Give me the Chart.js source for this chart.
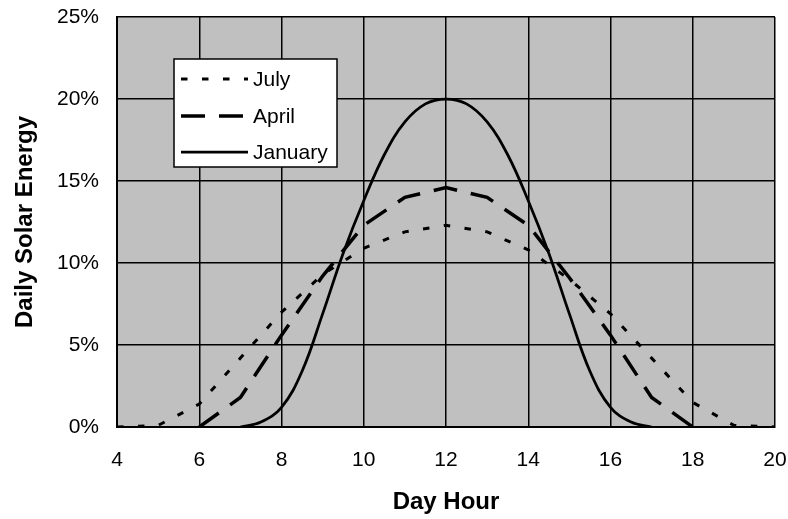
<!DOCTYPE html>
<html>
<head>
<meta charset="utf-8">
<script src="https://cdn.jsdelivr.net/npm/chart.js@4/dist/chart.umd.min.js"></script>
<style>
  html, body { margin: 0; padding: 0; background: #fff; }
  #wrap { width: 788px; height: 519px; }
</style>
</head>
<body>
<div id="wrap"><canvas id="solar"></canvas></div>
<script>
// hours on the x axis
var hourTicks = [4, 6, 8, 10, 12, 14, 16, 18, 20];
var percentTicks = [0, 5, 10, 15, 20, 25];

// July (dotted)
var julyHours = [4, 5, 6, 7, 8, 9, 10, 11, 12, 13, 14, 15, 16, 17, 18, 19, 20];
var julyValues = [0, 0.1, 1.4, 4.2, 7.0, 9.3, 10.9, 11.9, 12.3, 11.9, 10.8, 9.0, 6.9, 4.2, 1.5, 0.1, 0];

// April (dashed)
var aprilHours = [6, 7, 8, 9, 10, 11, 12, 13, 14, 15, 16, 17, 18];
var aprilValues = [0, 1.8, 5.6, 9.2, 12.3, 14.0, 14.6, 14.0, 12.3, 9.1, 5.6, 1.8, 0];

// January (solid, smoothed)
var janHours = [7, 7.5, 8, 8.5, 9, 9.5, 10, 10.5, 11, 11.5, 12, 12.5, 13, 13.5, 14, 14.5, 15, 15.5, 16, 16.5, 17];
var janValues = [0, 0.3, 1.2, 3.4, 6.9, 10.6, 13.8, 16.6, 18.6, 19.7, 20.0, 19.7, 18.6, 16.6, 13.8, 10.6, 6.9, 3.4, 1.2, 0.3, 0];

var FONT = '"Liberation Sans", Arial, sans-serif';

function pairs(xs, ys) {
  return xs.map(function (x, i) { return { x: x, y: ys[i] }; });
}

// gray plot background
var plotBg = {
  id: 'plotBg',
  beforeDraw: function (chart) {
    var a = chart.chartArea, ctx = chart.ctx;
    ctx.save();
    ctx.fillStyle = '#c0c0c0';
    ctx.fillRect(a.left, a.top, a.right - a.left, a.bottom - a.top);
    ctx.restore();
  }
};

// boxed legend inside the plot, line samples drawn with each dataset's style
var boxLegend = {
  id: 'boxLegend',
  afterDraw: function (chart) {
    var ctx = chart.ctx;
    var bx = 174, by = 59, bw = 163, bh = 108;
    ctx.save();
    ctx.fillStyle = '#fff';
    ctx.fillRect(bx, by, bw, bh);
    ctx.lineWidth = 1.5;
    ctx.strokeStyle = '#000';
    ctx.strokeRect(bx, by, bw, bh);
    var rowY = [79, 116, 152];
    chart.data.datasets.forEach(function (ds, i) {
      var y = rowY[i];
      ctx.beginPath();
      ctx.setLineDash(ds.borderDash || []);
      ctx.lineWidth = ds.borderWidth;
      ctx.strokeStyle = ds.borderColor;
      ctx.moveTo(181, y);
      ctx.lineTo(248, y);
      ctx.stroke();
      ctx.setLineDash([]);
      ctx.fillStyle = '#000';
      ctx.font = '21px ' + FONT;
      ctx.textBaseline = 'middle';
      ctx.textAlign = 'left';
      ctx.fillText(ds.label, 253, y + 1);
    });
    ctx.restore();
  }
};

new Chart(document.getElementById('solar'), {
  type: 'line',
  data: {
    datasets: [{
      label: 'July',
      data: pairs(julyHours, julyValues),
      borderColor: '#000',
      borderWidth: 3,
      borderDash: [6.5, 14.5],
      pointRadius: 0,
      tension: 0,
      fill: false
    }, {
      label: 'April',
      data: pairs(aprilHours, aprilValues),
      borderColor: '#000',
      borderWidth: 3.5,
      borderDash: [24, 14],
      pointRadius: 0,
      tension: 0,
      fill: false
    }, {
      label: 'January',
      data: pairs(janHours, janValues),
      borderColor: '#000',
      borderWidth: 2.75,
      pointRadius: 0,
      tension: 0.4,
      fill: false
    }]
  },
  options: {
    responsive: true,
    maintainAspectRatio: false,
    animation: false,
    layout: { padding: { top: 17, right: 13, left: 0, bottom: 0 } },
    plugins: {
      legend: { display: false },
      tooltip: { enabled: false }
    },
    scales: {
      x: {
        type: 'linear',
        min: 4,
        max: 20,
        afterBuildTicks: function (s) { s.ticks = hourTicks.map(function (v) { return { value: v }; }); },
        afterFit: function (s) { s.height = 92; s.paddingLeft = 0; s.paddingRight = 0; },
        grid: { color: '#000', lineWidth: 1.5, drawTicks: false },
        border: { display: true, color: '#000', width: 2 },
        ticks: { color: '#000', padding: 21, maxRotation: 0, font: { family: FONT, size: 21 } },
        title: {
          display: true,
          text: 'Day Hour',
          color: '#000',
          padding: { top: 0, bottom: 2 },
          font: { family: FONT, size: 24, weight: 'bold' }
        }
      },
      y: {
        min: 0,
        max: 25,
        afterBuildTicks: function (s) { s.ticks = percentTicks.map(function (v) { return { value: v }; }); },
        afterFit: function (s) { s.width = 117; s.paddingTop = 0; s.paddingBottom = 0; },
        grid: { color: '#000', lineWidth: 1.5, drawTicks: false },
        border: { display: true, color: '#000', width: 2 },
        ticks: {
          color: '#000',
          padding: 18,
          font: { family: FONT, size: 21 },
          callback: function (v) { return v + '%'; }
        },
        title: {
          display: true,
          text: 'Daily Solar Energy',
          color: '#000',
          padding: { top: 11, bottom: 0 },
          font: { family: FONT, size: 24, weight: 'bold' }
        }
      }
    }
  },
  plugins: [plotBg, boxLegend]
});
</script>
</body>
</html>
